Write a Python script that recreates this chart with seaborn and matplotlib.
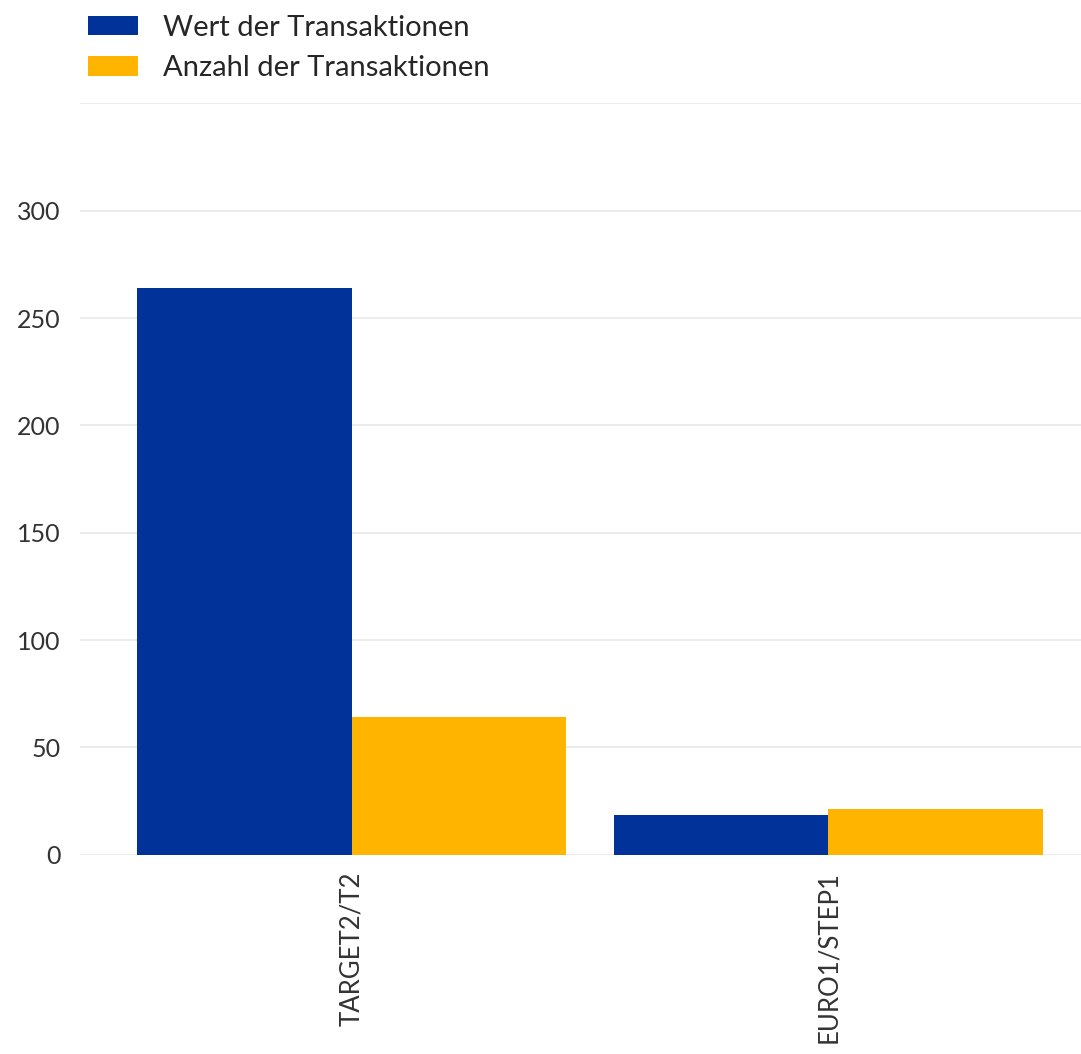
import pandas as pd
import matplotlib.pyplot as plt
import seaborn as sns

# Zahlungssysteme und Anteile
systems = ['TARGET2/T2', 'EURO1/STEP1']
series = ['Wert der Transaktionen', 'Anzahl der Transaktionen']
wert = [264, 18.5]
anzahl = [64, 21.5]

colors = ['#003299', '#FFB400']

df = pd.DataFrame({
    'system': systems * 2,
    'serie': [series[0]] * len(systems) + [series[1]] * len(systems),
    'wert': wert + anzahl,
})

sns.set_theme(style='white')
plt.rcParams['font.family'] = ['Lato', 'DejaVu Sans']

fig = plt.figure(figsize=(10.81, 10.54), dpi=100)
ax = fig.add_axes([0.074, 0.189, 0.926, 0.713])

sns.barplot(data=df, x='system', y='wert', hue='serie', hue_order=series,
            palette=colors, width=0.9, saturation=1, linewidth=0,
            ax=ax, legend=True)

ax.set_xlim(-0.57, 1.53)
ax.set_ylim(0, 350)
ax.set_yticks([0, 50, 100, 150, 200, 250, 300, 350])
ax.set_yticklabels(['0', '50', '100', '150', '200', '250', '300', ''])
ax.grid(axis='y', color='#ececec', linewidth=1.5)
ax.set_axisbelow(True)
for s in ax.spines.values():
    s.set_visible(False)
ax.set_xlabel('')
ax.set_ylabel('')
ax.tick_params(axis='x', labelrotation=90, labelsize=18.5, colors='#333333', length=0, pad=12)
ax.tick_params(axis='y', labelsize=18, colors='#333333', length=0, pad=14)

handles, labels = ax.get_legend_handles_labels()
ax.get_legend().remove()
fig.legend(handles, labels, loc='upper left', bbox_to_anchor=(0.068, 1.0),
           frameon=False, fontsize=21, handlelength=1.7, handleheight=0.65,
           handletextpad=0.86, labelspacing=0.5, borderpad=0.0)

fig.savefig('out.png', dpi=100)
